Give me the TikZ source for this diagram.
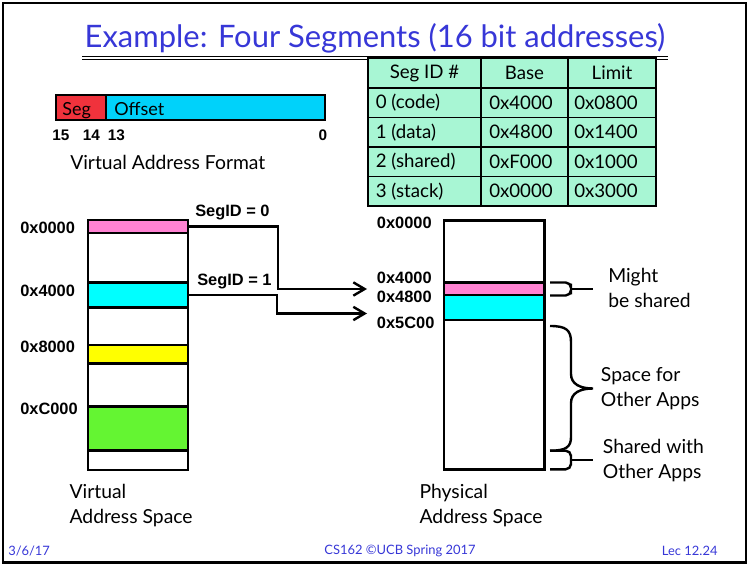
\documentclass[tikz,border=0pt]{standalone}
\usepackage{fontspec}
\setmainfont{Lato}
\newfontfamily\hv{Liberation Sans}
\usetikzlibrary{arrows.meta,fit}
\definecolor{titleblue}{RGB}{55,55,215}
\definecolor{segred}{RGB}{240,50,60}
\definecolor{offcyan}{RGB}{0,210,250}
\definecolor{mpink}{RGB}{255,130,210}
\definecolor{mcyan}{RGB}{0,255,255}
\definecolor{myellow}{RGB}{255,255,0}
\definecolor{mgreen}{RGB}{100,245,50}
\definecolor{mint}{RGB}{168,246,212}
\begin{document}
\begin{tikzpicture}[x=0.75pt,y=-0.75pt,
  gill/.style={font=\fontsize{14.5}{18.75}\selectfont, inner sep=0pt, align=left},
  cell/.style={font=\fontsize{14}{16}\selectfont, inner sep=0pt},
  hvb/.style={font=\hv\bfseries\fontsize{12.3}{14}\selectfont, inner sep=0pt},
  bitlab/.style={font=\hv\bfseries\fontsize{11.5}{13}\selectfont, inner sep=0pt},
  foot/.style={font=\fontsize{9.7}{11}\selectfont, text=titleblue, inner sep=0pt},
  band/.style={draw, line width=1.9pt, inner sep=0pt},
  conn/.style={line width=1.8pt, -{Straight Barb[length=8.5pt,width=10pt,line width=1.8pt]}},
  brc/.style={line width=1.8pt, rounded corners=4pt},
]
\useasboundingbox (0,0) rectangle (749,566);
% slide frame
\draw[line width=2.2pt] (3,3) rectangle (746,562.5);

% title with double rule
\node[font=\fontsize{23.2}{26}\selectfont, text=titleblue, anchor=base, inner sep=0pt] (title) at (375,48) {Example: Four Segments (16 bit addresses)};
\draw[line width=1.2pt] (82,56.5) -- (668,56.5);
\draw[line width=0.7pt] (82,59.8) -- (668,59.8);

% virtual address format bar
\node[fit={(56,95) (106,120)}, band, fill=segred] (segf) {};
\node[fit={(106,95) (325,120)}, band, fill=offcyan] (offf) {};
\node[font=\fontsize{13.5}{15}\selectfont, anchor=base west, inner sep=0pt] (segt) at (62,116) {Seg};
\node[font=\fontsize{13.5}{15}\selectfont, anchor=base west, inner sep=0pt] (offt) at (114,116) {Offset};
\node[bitlab] (b15) at (61,135) {15};
\node[bitlab] (b14) at (91.5,135) {14};
\node[bitlab] (b13) at (116.5,135) {13};
\node[bitlab] (b0) at (323,135) {0};
\node[gill, anchor=west] (vaf) at (70,162) {Virtual Address Format};

% segment table
\fill[mint] (368,58) rectangle (656,206);
\foreach \xx in {481,568} \draw[line width=0.9pt] (\xx,58) -- (\xx,206);
\foreach \yy in {117.5,147,176.5} \draw[line width=0.9pt] (368,\yy) -- (656,\yy);
\draw[line width=1.6pt] (368,88) -- (656,88);
\draw[line width=1.8pt] (368,58) rectangle (656,206);
\node[cell] (h1) at (424.5,73) {Seg ID \#};
\node[cell] (h2) at (524.5,73) {Base};
\node[cell] (h3) at (612,73) {Limit};
\foreach \r/\yy/\a/\b/\c in {1/102.7/0 (code)/0x4000/0x0800,
                             2/132.2/1 (data)/0x4800/0x1400,
                             3/161.7/2 (shared)/0xF000/0x1000,
                             4/191.2/3 (stack)/0x0000/0x3000}{
  \node[cell, anchor=west] (r\r a) at (375.5,\yy) {\a};
  \node[cell, anchor=west] (r\r b) at (489,\yy) {\b};
  \node[cell, anchor=west] (r\r c) at (574,\yy) {\c};
}

% virtual address space
\node[fit={(88,220) (188,470)}, band] (vspace) {};
\node[fit={(88,220) (188,233)}, band, fill=mpink] (vseg0) {};
\node[fit={(88,282.7) (188,307.3)}, band, fill=mcyan] (vseg1) {};
\node[fit={(88,345) (188,363.3)}, band, fill=myellow] (vseg2) {};
\node[fit={(88,406.7) (188,450.7)}, band, fill=mgreen] (vseg3) {};
\node[hvb, anchor=west] (va0) at (20,228) {0x0000};
\node[hvb, anchor=west] (va1) at (20,290.7) {0x4000};
\node[hvb, anchor=west] (va2) at (20,346.7) {0x8000};
\node[hvb, anchor=west] (va3) at (20,409) {0xC000};
\node[gill, anchor=west] (vlab) at (69.3,506) {Virtual\\Address Space};

% physical address space
\node[fit={(444,220.7) (544.3,469.3)}, band] (pspace) {};
\node[fit={(444,282.3) (544.3,295)}, band, fill=mpink] (pseg0) {};
\node[fit={(444,295) (544.3,320)}, band, fill=mcyan] (pseg1) {};
\node[hvb, anchor=west] (pa0) at (376.7,222.7) {0x0000};
\node[hvb, anchor=west] (pa1) at (376.7,278) {0x4000};
\node[hvb, anchor=west] (pa2) at (376.7,297) {0x4800};
\node[hvb, anchor=west] (pa3) at (376.7,322.7) {0x5C00};
\node[gill, anchor=west] (plab) at (419.3,506) {Physical\\Address Space};

% translation connectors
\coordinate (t0) at (367,289);
\coordinate (t1) at (367,313.5);
\draw[conn] (vseg0.east) -| (278,289) -- (t0);
\draw[conn] (vseg1.east) -| (277,313.5) -- (t1);
\node[hvb, anchor=west] (sid0) at (195,213) {SegID = 0};
\node[hvb, anchor=west] (sid1) at (197,282) {SegID = 1};

% braces and notes
\draw[brc] (550,282.5) -| (571,289) |- (550,295.5);
\draw[line width=1.8pt] (571,289) -- (593,289);
\draw[line width=1.8pt] (550,326) .. controls (566,326) and (571,330) .. (571,342) -- (571,374)
  .. controls (571,384) and (580,388.5) .. (593,388.5)
  .. controls (580,388.5) and (571,393) .. (571,403) -- (571,437)
  .. controls (571,447) and (566,450.7) .. (550,450.7);
\draw[brc] (550,450.7) -| (571,460) |- (550,469.3);
\draw[line width=1.8pt] (571,460) -- (593,460);
\node[gill, anchor=west] (n0) at (608,288) {Might\\be shared};
\node[gill, anchor=west] (n1) at (600.7,388.5) {Space for\\Other Apps};
\node[gill, anchor=west] (n2) at (602.7,461) {Shared with\\Other Apps};

% footer
\node[foot, anchor=west] (f1) at (8,551) {3/6/17};
\node[foot] (f2) at (400,551) {CS162 ©UCB Spring 2017};
\node[foot, anchor=west] (f3) at (661.7,551) {Lec 12.24};
\end{tikzpicture}
\end{document}
